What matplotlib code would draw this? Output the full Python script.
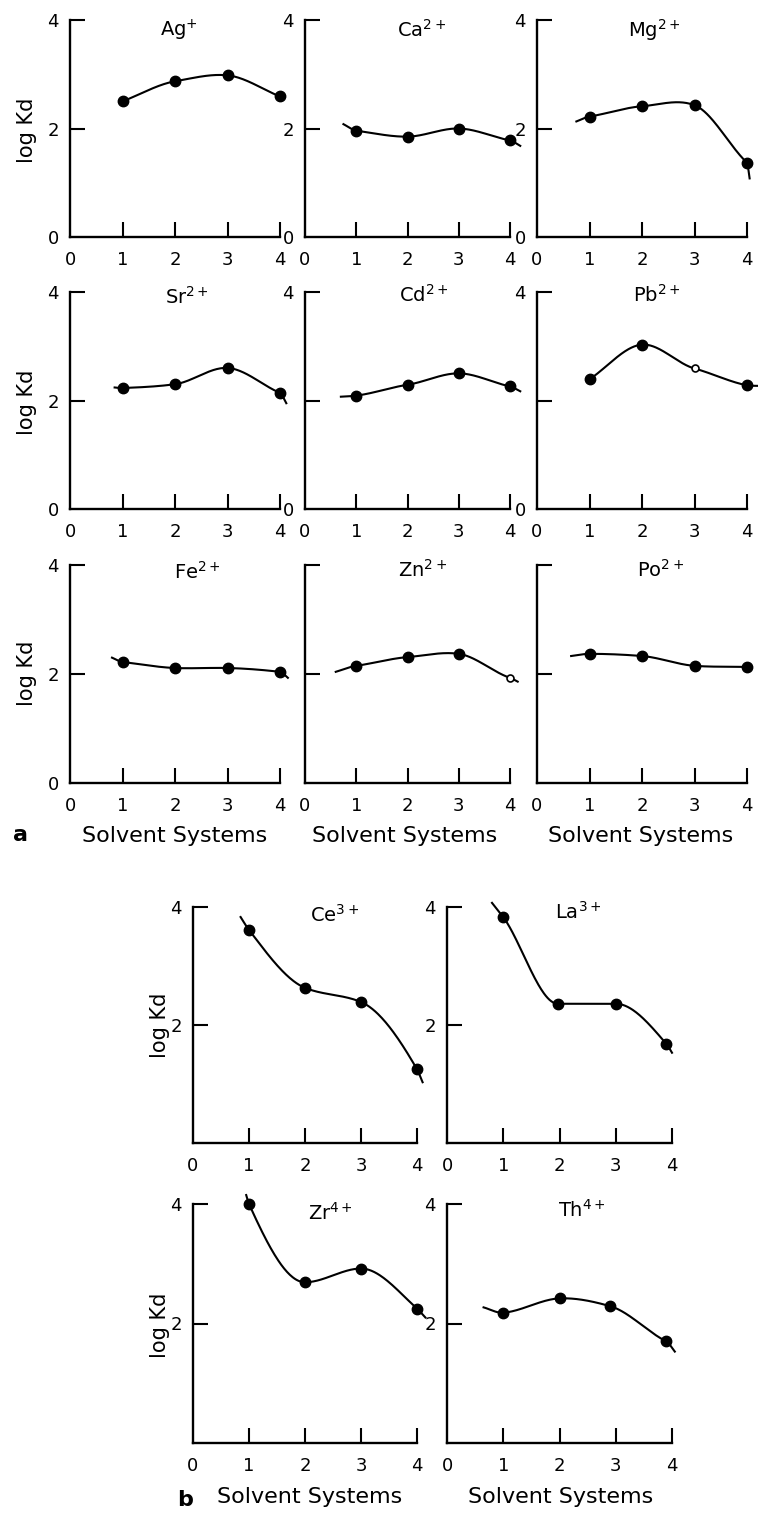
import numpy as np
import matplotlib
matplotlib.use("Agg")
import matplotlib.pyplot as plt

plt.rcParams["font.family"] = ["DejaVu Sans"]
plt.rcParams["mathtext.fontset"] = "dejavusans"

# ---- data: log Kd of each ion in the four solvent systems ----
systems = [1, 2, 3, 4]
xtick_labels = ["0", "1", "2", "3", "4"]

ag_logkd = [2.50, 2.87, 2.98, 2.59]
ca_logkd = [1.96, 1.85, 2.00, 1.78]
mg_logkd = [2.22, 2.41, 2.43, 1.37]
sr_logkd = [2.23, 2.30, 2.60, 2.14]
cd_logkd = [2.09, 2.29, 2.50, 2.26]
pb_logkd = [2.39, 3.03, 2.59, 2.28]
fe_logkd = [2.22, 2.11, 2.11, 2.04]
zn_logkd = [2.15, 2.31, 2.37, 1.93]
po_logkd = [2.37, 2.33, 2.15, 2.13]

ce_logkd = [3.61, 2.63, 2.39, 1.25]
la_systems = [1, 1.97, 3, 3.9]
la_logkd = [3.83, 2.36, 2.36, 1.68]
zr_logkd = [4.00, 2.69, 2.92, 2.25]
th_systems = [1, 2, 2.9, 3.9]
th_logkd = [2.18, 2.42, 2.29, 1.70]

# where each hand-drawn curve starts and ends beyond the measured points
ca_ends = [(0.75, 2.08), (4.2, 1.68)]
mg_ends = [(0.75, 2.13), (4.05, 1.08)]
sr_ends = [(0.85, 2.24), (4.12, 1.95)]
cd_ends = [(0.7, 2.07), (4.2, 2.17)]
pb_ends = [None, (4.2, 2.27)]
fe_ends = [(0.8, 2.30), (4.15, 1.93)]
zn_ends = [(0.6, 2.04), (4.15, 1.86)]
po_ends = [(0.65, 2.33), None]
ce_ends = [(0.85, 3.83), (4.1, 1.03)]
la_ends = [(0.8, 4.07), (4.0, 1.53)]
zr_ends = [(0.95, 4.15), (4.15, 2.10)]
th_ends = [(0.65, 2.27), (4.05, 1.53)]

W, H = 758, 1513
fig = plt.figure(figsize=(W / 100, H / 100), dpi=100)
fig.patch.set_facecolor("white")


def smooth_curve(xs, ys, method="cardinal", tension=0.7, n=300):
    """Hermite curve through the given points (cardinal spline or monotone)."""
    xs = np.asarray(xs, float)
    ys = np.asarray(ys, float)
    h = np.diff(xs)
    delta = np.diff(ys) / h
    d = np.zeros_like(ys)
    for k in range(1, len(xs) - 1):
        if method == "cardinal":
            d[k] = tension * (ys[k + 1] - ys[k - 1]) / (xs[k + 1] - xs[k - 1])
        elif delta[k - 1] * delta[k] > 0:
            w1 = 2 * h[k] + h[k - 1]
            w2 = h[k] + 2 * h[k - 1]
            d[k] = (w1 + w2) / (w1 / delta[k - 1] + w2 / delta[k])
    d[0] = delta[0]
    d[-1] = delta[-1]
    xx, yy = [], []
    for k in range(len(xs) - 1):
        t = np.linspace(0, 1, n // (len(xs) - 1))
        h00 = 2 * t**3 - 3 * t**2 + 1
        h10 = t**3 - 2 * t**2 + t
        h01 = -2 * t**3 + 3 * t**2
        h11 = t**3 - t**2
        xx.append(xs[k] + t * h[k])
        yy.append(h00 * ys[k] + h10 * h[k] * d[k] + h01 * ys[k + 1] + h11 * h[k] * d[k + 1])
    return np.concatenate(xx), np.concatenate(yy)


def px(x, y):
    return x / W, 1 - y / H


def panel(box, xs, ys, ends, title, title_xy, ylabels, open_idx=(), method="cardinal"):
    x0, x4, ytop, ybot = box
    ax = fig.add_axes([x0 / W, 1 - ybot / H, (x4 - x0) / W, (ybot - ytop) / H])
    ax.set_xlim(0, 4)
    ax.set_ylim(0, 4)
    for s in ("top", "right"):
        ax.spines[s].set_visible(False)
    for s in ("left", "bottom"):
        ax.spines[s].set_linewidth(1.7)
        ax.spines[s].set_capstyle("projecting")
    ax.xaxis.remove_overlapping_locs = False
    ax.yaxis.remove_overlapping_locs = False
    ax.set_xticks(range(5))
    ax.set_xticklabels(xtick_labels)
    ax.set_xticks(systems, minor=True)
    ax.set_yticks([0, 2, 4])
    ax.set_yticklabels(["0" if 0 in ylabels else "", "2" if 2 in ylabels else "",
                        "4" if 4 in ylabels else ""])
    ax.set_yticks([2, 4], minor=True)
    ax.tick_params(which="major", length=0, labelsize=13, direction="in")
    ax.tick_params(axis="x", which="major", pad=10)
    ax.tick_params(axis="y", which="major", pad=8)
    ax.tick_params(which="minor", length=11, width=1.5, direction="in")
    cx, cy = list(xs), list(ys)
    if ends[0] is not None:
        cx.insert(0, ends[0][0])
        cy.insert(0, ends[0][1])
    if ends[1] is not None:
        cx.append(ends[1][0])
        cy.append(ends[1][1])
    lx, ly = smooth_curve(cx, cy, method=method)
    ax.plot(lx, ly, color="black", lw=1.5, clip_on=False, zorder=3)
    for i, (x, y) in enumerate(zip(xs, ys)):
        if i in open_idx:
            ax.plot(x, y, "o", ms=5, mfc="white", mec="black", mew=1.2,
                    clip_on=False, zorder=4)
        else:
            ax.plot(x, y, "o", ms=7.5, color="black", clip_on=False, zorder=4)
    tx, ty = px(*title_xy)
    fig.text(tx, ty, title, ha="center", va="center", fontsize=14)
    return ax


# panel a: 3 x 3 grid
cols_a = [(70, 280), (305, 510), (537, 747)]
rows_a = [(20, 237), (292, 509), (565, 783)]

panel(cols_a[0] + rows_a[0], systems, ag_logkd, [None, None], "Ag$^{+}$", (179, 30), (0, 2, 4))
panel(cols_a[1] + rows_a[0], systems, ca_logkd, ca_ends, "Ca$^{2+}$", (422, 30), (0, 2, 4))
panel(cols_a[2] + rows_a[0], systems, mg_logkd, mg_ends, "Mg$^{2+}$", (654, 30), (0, 2, 4))
panel(cols_a[0] + rows_a[1], systems, sr_logkd, sr_ends, "Sr$^{2+}$", (187, 297), (0, 2, 4))
panel(cols_a[1] + rows_a[1], systems, cd_logkd, cd_ends, "Cd$^{2+}$", (424, 295), (0, 4))
panel(cols_a[2] + rows_a[1], systems, pb_logkd, pb_ends, "Pb$^{2+}$", (657, 295), (0, 4), open_idx=(2,))
panel(cols_a[0] + rows_a[2], systems, fe_logkd, fe_ends, "Fe$^{2+}$", (197, 572), (0, 2, 4))
panel(cols_a[1] + rows_a[2], systems, zn_logkd, zn_ends, "Zn$^{2+}$", (423, 570), (), open_idx=(3,))
panel(cols_a[2] + rows_a[2], systems, po_logkd, po_ends, "Po$^{2+}$", (661, 570), ())

# panel b: 2 x 2 grid
cols_b = [(193, 417), (447, 672)]
rows_b = [(907, 1143), (1204, 1443)]

panel(cols_b[0] + rows_b[0], systems, ce_logkd, ce_ends, "Ce$^{3+}$", (335, 915), (2, 4), method="monotone")
panel(cols_b[1] + rows_b[0], la_systems, la_logkd, la_ends, "La$^{3+}$", (578, 912), (2, 4), method="monotone")
panel(cols_b[0] + rows_b[1], systems, zr_logkd, zr_ends, "Zr$^{4+}$", (330, 1213), (2, 4), method="monotone")
panel(cols_b[1] + rows_b[1], th_systems, th_logkd, th_ends, "Th$^{4+}$", (582, 1210), (2, 4))

# axis titles
for x, y in [(27, 130), (27, 402), (27, 673), (160, 1025), (160, 1325)]:
    fig.text(*px(x, y), "log Kd", rotation=90, ha="center", va="center", fontsize=15)
for x, y in [(175, 836), (405, 836), (641, 836), (310, 1497), (561, 1497)]:
    fig.text(*px(x, y), "Solvent Systems", ha="center", va="center", fontsize=16)

fig.text(*px(20, 835), "a", ha="center", va="center", fontsize=16, fontweight="bold")
fig.text(*px(185, 1500), "b", ha="center", va="center", fontsize=16, fontweight="bold")

fig.savefig("out.png", dpi=100, facecolor="white")
